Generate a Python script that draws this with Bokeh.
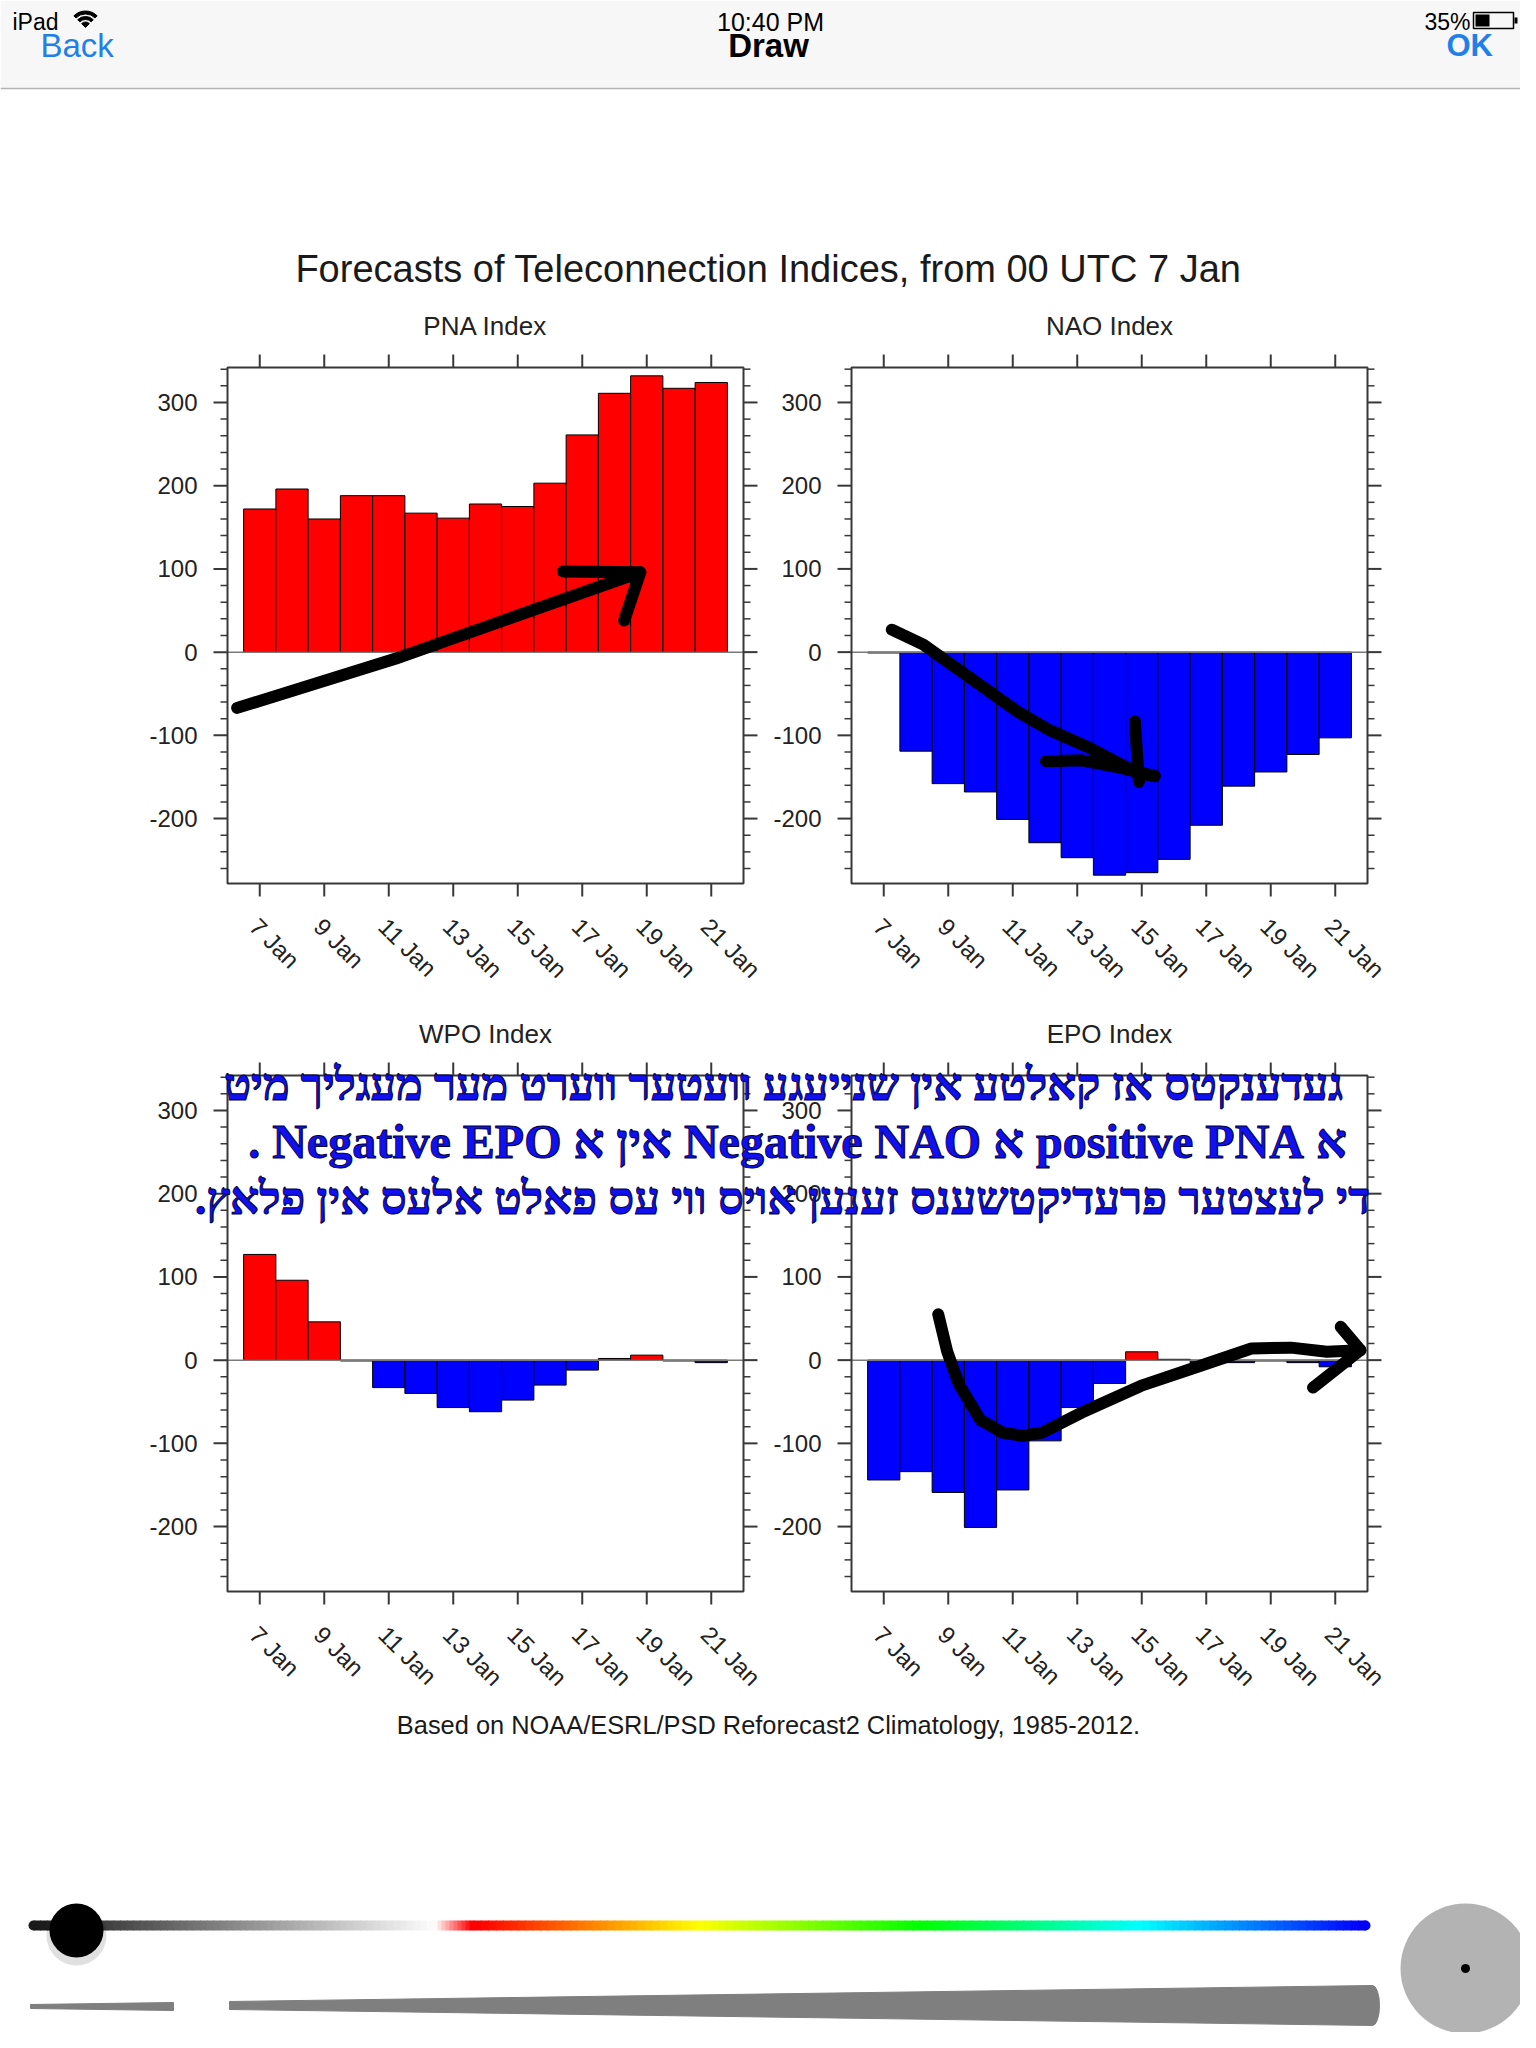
import math
import colorsys
import numpy as np
from bokeh.plotting import figure
from bokeh.models import Range1d
from bokeh.core.properties import value
from bokeh.embed import file_html
from bokeh.resources import INLINE

# ---------------- data ----------------
DAYS = [7, 8, 9, 10, 11, 12, 13, 14, 15, 16, 17, 18, 19, 20, 21]
PNA = [172, 196, 160, 188, 188, 167, 161, 178, 175, 203, 261, 311, 332, 317, 324]
NAO = [-1, -119, -158, -168, -201, -229, -247, -268, -265, -249, -208, -161, -144, -123, -103]
WPO = [127, 96, 46, -1, -33, -40, -57, -62, -48, -30, -12, 2, 6, -1, -3]
EPO = [-144, -134, -159, -201, -156, -97, -57, -28, 10, 1, -3, -3, -1, -3, -8]

X_TICKS = [7, 9, 11, 13, 15, 17, 19, 21]
X_TICK_LABELS = ["7 Jan", "9 Jan", "11 Jan", "13 Jan", "15 Jan", "17 Jan", "19 Jan", "21 Jan"]
Y_TICKS = [-200, -100, 0, 100, 200, 300]
Y_TICK_LABELS = ["-200", "-100", "0", "100", "200", "300"]
Y_MINOR = [-260, -240, -220, -180, -160, -140, -120, -80, -60, -40, -20,
           20, 40, 60, 80, 120, 140, 160, 180, 220, 240, 260, 280, 320, 340]
X_MIN, X_MAX = 6, 22
Y_MIN, Y_MAX = -278, 342

MAIN_TITLE = "Forecasts of Teleconnection Indices, from 00 UTC 7 Jan"
PANEL_TITLES = ["PNA Index", "NAO Index", "WPO Index", "EPO Index"]
FOOTER = "Based on NOAA/ESRL/PSD Reforecast2 Climatology, 1985-2012."

# hand-drawn strokes (in each panel's data coordinates)
PNA_DRAW_X = [[6.3, 11.2, 18.8], [16.4, 18.8, 18.3]]
PNA_DRAW_Y = [[-67, -8, 96], [97, 96, 38]]
NAO_DRAW_X = [[7.25, 8.23, 9.46, 11.17, 12.15, 13.38, 14.85, 15.4],
              [14.79, 14.85, 14.91],
              [12.03, 13.14, 14.36, 15.4]]
NAO_DRAW_Y = [[27, 9, -25, -72, -94, -115, -145, -149],
              [-83, -120, -156],
              [-131, -130, -139, -149]]
EPO_DRAW_X = [[8.69, 8.97, 9.33, 10.0, 10.68, 11.3, 11.91, 13.14, 14.97, 16.8, 18.4, 19.63, 20.74, 21.78],
              [21.17, 21.78, 20.31]]
EPO_DRAW_Y = [[55, 10, -29, -72, -87, -91, -87, -63, -31, -7, 14, 15, 10, 12],
              [40, 12, -33]]

YIDDISH = [
    "געדענקטס אז קאלטע אין שנייעגע וועטער ווערט מער מעגליך מיט",
    "א positive PNA א Negative NAO אין א Negative EPO .",
    "די לעצטער פרעדיקטשענס זענען אויס ווי עס פאלט אלעס אין פלאץ.",
]

STATUS = {"left": "iPad", "time": "10:40 PM", "battery": "35%",
          "back": "Back", "title": "Draw", "ok": "OK"}

# ---------------- layout / style ----------------
W, H = 1520, 2032
PANELS = [(227, 743, 367, 883), (851, 1367, 367, 883),
          (227, 743, 1075, 1591), (851, 1367, 1075, 1591)]
RED, BLUE = "#ff0000", "#0000ff"
FRAME = "#383838"
FONT = "Liberation Sans"
IOS_BLUE = "#1f80ea"

p = figure(width=W, height=H, x_range=Range1d(0, W), y_range=Range1d(H, 0),
           x_axis_location=None, y_axis_location=None, toolbar_location=None,
           output_backend="svg", min_border=0, outline_line_color=None)
p.grid.visible = False
p.background_fill_color = "white"
p.border_fill_color = "white"


def txt(x, y, s, size, color="#1a1a1a", align="center", style="normal", font=FONT):
    p.text(x=[x], y=[y], text=[s], text_font=value(font), text_font_size=f"{size}px",
           text_color=color, text_align=align, text_baseline="middle",
           text_font_style=style)


# ---------------- iPad chrome ----------------
p.quad(left=[0], right=[W], top=[0], bottom=[88], fill_color="#f7f7f7", line_color=None)
p.segment(x0=[0], y0=[88], x1=[W], y1=[88], line_color="#b2b2b2", line_width=1.5)
txt(12, 21, STATUS["left"], 23, color="black", align="left")
txt(770, 21, STATUS["time"], 25, color="black")
txt(1470, 21, STATUS["battery"], 23, color="black", align="right")
txt(40, 45, STATUS["back"], 33, color=IOS_BLUE, align="left")
txt(768, 45, STATUS["title"], 33, color="black", style="bold")
txt(1446, 45, STATUS["ok"], 31, color=IOS_BLUE, align="left", style="bold")
# wifi icon
p.annular_wedge(x=[85, 85], y=[27, 27], inner_radius=[8, 13.5], outer_radius=[11, 16.5],
                start_angle=math.pi / 4, end_angle=3 * math.pi / 4, color="black")
p.wedge(x=[85], y=[27], radius=5.5, start_angle=math.pi / 4, end_angle=3 * math.pi / 4,
        color="black")
# battery icon
p.quad(left=[1473], right=[1513], top=[12], bottom=[28], fill_color=None,
       line_color="black", line_width=1.5)
p.quad(left=[1475], right=[1489], top=[14], bottom=[26], fill_color="black", line_color=None)
p.quad(left=[1514], right=[1517], top=[17], bottom=[23], fill_color="black", line_color=None)

# ---------------- titles ----------------
txt(768, 268, MAIN_TITLE, 38)
txt(768, 1724, FOOTER, 25.4)

# ---------------- panels ----------------
DRAWINGS = {0: (PNA_DRAW_X, PNA_DRAW_Y), 1: (NAO_DRAW_X, NAO_DRAW_Y), 3: (EPO_DRAW_X, EPO_DRAW_Y)}
SERIES = [PNA, NAO, WPO, EPO]
subs = []
for i, (vals, title, (x0, x1, y0, y1)) in enumerate(zip(SERIES, PANEL_TITLES, PANELS)):
    sub = p.subplot(x_source=Range1d(X_MIN, X_MAX), y_source=Range1d(Y_MIN, Y_MAX),
                    x_target=Range1d(x0, x1), y_target=Range1d(y1, y0))
    subs.append(sub)
    colors = [RED if v > 0 else BLUE for v in vals]
    sub.vbar(x=DAYS, top=vals, bottom=0, width=1.0, fill_color=colors,
             line_color="black", line_width=1)
    sub.segment(x0=[X_MIN], y0=[0], x1=[X_MAX], y1=[0], line_color="#7a7a7a", line_width=1.5)
    sub.quad(left=[X_MIN], right=[X_MAX], bottom=[Y_MIN], top=[Y_MAX], fill_color=None,
             line_color=FRAME, line_width=2)
    n, m, k = len(Y_TICKS), len(Y_MINOR), len(X_TICKS)
    sub.ray(x=[X_MIN] * n, y=Y_TICKS, length=14, length_units="screen", angle=math.pi,
            line_color=FRAME, line_width=2)
    sub.ray(x=[X_MAX] * n, y=Y_TICKS, length=14, length_units="screen", angle=0,
            line_color=FRAME, line_width=2)
    sub.ray(x=[X_MIN] * m, y=Y_MINOR, length=7, length_units="screen", angle=math.pi,
            line_color=FRAME, line_width=1.5)
    sub.ray(x=[X_MAX] * m, y=Y_MINOR, length=7, length_units="screen", angle=0,
            line_color=FRAME, line_width=1.5)
    sub.ray(x=X_TICKS, y=[Y_MAX] * k, length=13, length_units="screen", angle=math.pi / 2,
            line_color=FRAME, line_width=2)
    sub.ray(x=X_TICKS, y=[Y_MIN] * k, length=13, length_units="screen", angle=-math.pi / 2,
            line_color=FRAME, line_width=2)
    sub.text(x=[X_MIN] * n, y=Y_TICKS, text=Y_TICK_LABELS, x_offset=-30,
             text_align="right", text_baseline="middle", text_font=value(FONT),
             text_font_size="24px", text_color="#222222")
    sub.text(x=X_TICKS, y=[Y_MIN] * k, text=X_TICK_LABELS, angle=-math.pi / 4,
             x_offset=-6, y_offset=39, text_align="left", text_baseline="middle",
             text_font=value(FONT), text_font_size="24px", text_color="#222222")
    sub.text(x=[(X_MIN + X_MAX) / 2], y=[Y_MAX], text=[title], y_offset=-42,
             text_align="center", text_baseline="middle", text_font=value(FONT),
             text_font_size="26px", text_color="#222222")

# hand-drawn strokes
for i, (dx, dy) in DRAWINGS.items():
    subs[i].multi_line(xs=dx, ys=dy, line_color="black", line_width=12,
                       line_cap="round", line_join="round")

# Yiddish overlay text (right-to-left)
YI_POS = [(783, 1084, 45), (797, 1141, 48), (782, 1198, 45.5)]
for s, (x, y, fs) in zip(YIDDISH, YI_POS):
    p.text(x=[x], y=[y], text=["\u202B" + s + "\u202C"], text_font=value("Liberation Serif"),
           text_font_size=f"{fs}px", text_font_style="bold", text_color="#1010f0",
           text_outline_color="#00003c", text_align="center", text_baseline="middle")

# ---------------- drawing-tool controls ----------------
TRACK_TOP, TRACK_BOT = 1920, 1930
# colour track: black->white
g_edges = np.linspace(33, 433, 61)
g_cols = []
for t in np.linspace(0, 1, 60):
    v = int(25 + t * 225)
    g_cols.append("#%02x%02x%02x" % (v, v, v))
p.quad(left=g_edges[:-1], right=g_edges[1:] + 0.8, top=TRACK_TOP, bottom=TRACK_BOT,
       fill_color=g_cols, line_color=None)
# white -> red
w_edges = np.linspace(433, 473, 11)
w_cols = []
for t in np.linspace(0, 1, 10):
    gb = int(250 * (1 - t))
    w_cols.append("#ff%02x%02x" % (gb, gb))
p.quad(left=w_edges[:-1], right=w_edges[1:] + 0.8, top=TRACK_TOP, bottom=TRACK_BOT,
       fill_color=w_cols, line_color=None)
# rainbow red -> blue
r_edges = np.linspace(473, 1365, 121)
r_cols = []
for t in np.linspace(0, 1, 120):
    r, g, b = colorsys.hsv_to_rgb(t * 240 / 360, 1, 1)
    r_cols.append("#%02x%02x%02x" % (int(r * 255), int(g * 255), int(b * 255)))
p.quad(left=r_edges[:-1], right=r_edges[1:] + 0.8, top=TRACK_TOP, bottom=TRACK_BOT,
       fill_color=r_cols, line_color=None)
p.circle(x=[1365], y=[1925], radius=5, fill_color="#0000ff", line_color=None)
p.circle(x=[33], y=[1925], radius=5, fill_color="#191919", line_color=None)
# knob
p.circle(x=[76], y=[1935], radius=30, fill_color="black", fill_alpha=0.12, line_color=None)
p.circle(x=[76], y=[1930], radius=27, fill_color="black", line_color=None)
# line-width wedge
p.patch(x=[30, 173, 173, 30], y=[2004, 2002, 2010, 2008], color="#7f7f7f")
p.patch(x=[229, 1372, 1372, 229], y=[2001, 1985, 2025, 2009], color="#7f7f7f")
p.ellipse(x=[1372], y=[2005], width=14, height=40, color="#7f7f7f")
# brush preview
p.circle(x=[1465], y=[1968], radius=65, fill_color="#b3b3b3", line_color=None)
p.circle(x=[1465], y=[1968], radius=4.5, fill_color="black", line_color=None)

open("out.html", "w").write(file_html(p, INLINE))
